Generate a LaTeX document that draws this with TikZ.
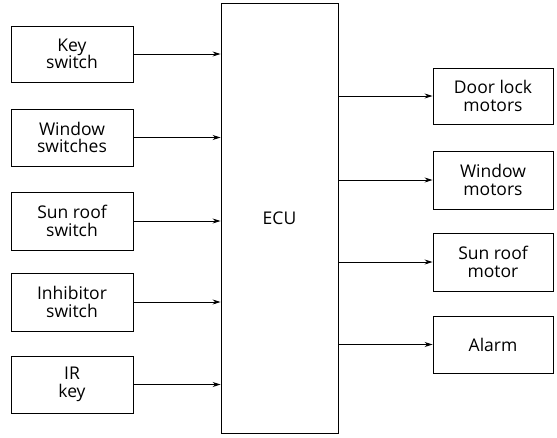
\documentclass[tikz,border=0pt]{standalone}
\usepackage{fontspec}
\setmainfont{Open Sans}
\usetikzlibrary{arrows.meta}
\begin{document}
\begin{tikzpicture}[x=1pt,y=-1pt,
  blk/.style={draw, line width=0.9pt, minimum width=122pt, inner sep=0pt, align=center, font=\fontsize{17.5}{17.5}\selectfont},
  conn/.style={line width=0.8pt, -{Stealth[length=8pt,width=5pt]}}]
\useasboundingbox (0,0) rectangle (557,437);
% ECU
\node[draw, line width=0.9pt, minimum width=117pt, minimum height=430pt, inner sep=0pt, font=\fontsize{17.5}{17.5}\selectfont] (ecu) at (279.5,218) {ECU};
% inputs
\node[blk, minimum height=56pt] (key) at (72,54) {Key\\switch};
\node[blk, minimum height=57pt] (win) at (72,137.5) {Window\\switches};
\node[blk, minimum height=58pt] (sun) at (72,221) {Sun roof\\switch};
\node[blk, minimum height=58pt] (inh) at (72,302) {Inhibitor\\switch};
\node[blk, minimum height=57pt] (ir) at (72,384.5) {IR\\key};
% outputs
\node[blk, minimum width=120pt, minimum height=56pt] (door) at (493,96) {Door lock\\motors};
\node[blk, minimum width=120pt, minimum height=58pt] (wm) at (493,180) {Window\\motors};
\node[blk, minimum width=120pt, minimum height=58pt] (srm) at (493,262) {Sun roof\\motor};
\node[blk, minimum width=120pt, minimum height=57pt] (alarm) at (493,344.5) {Alarm};
% connectors
\foreach \n in {key,win,sun,inh,ir}
  \draw[conn] (\n.east) -- (\n.east -| ecu.west);
\foreach \n in {door,wm,srm,alarm}
  \draw[conn] (\n.west -| ecu.east) -- (\n.west);
\end{tikzpicture}
\end{document}
